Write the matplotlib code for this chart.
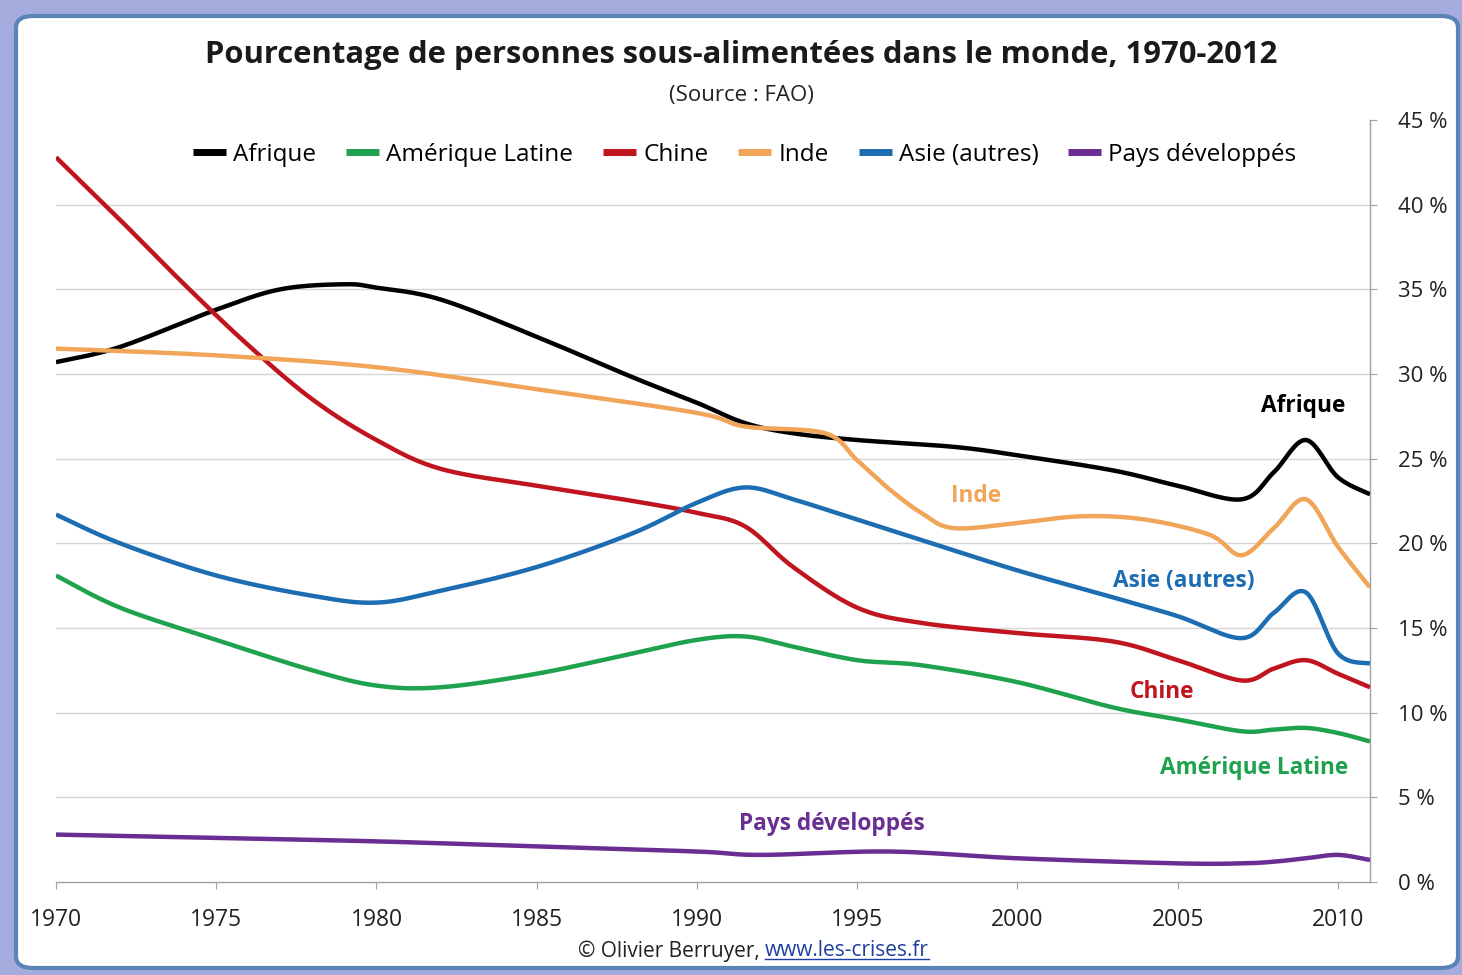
import numpy as np
import matplotlib
matplotlib.use("Agg")
import matplotlib.pyplot as plt
from matplotlib.patches import FancyBboxPatch

plt.rcParams['font.family'] = ['Open Sans', 'DejaVu Sans']

# ---------------- data (percent undernourished) ----------------
afrique_years = [1970, 1972, 1975, 1977, 1979, 1980, 1982, 1985, 1988, 1990, 1991.5, 1993, 1995, 1998, 2000, 2003, 2005, 2007, 2008, 2009, 2010, 2011]
afrique_vals  = [30.7, 31.6, 33.8, 35.0, 35.3, 35.1, 34.4, 32.2, 29.8, 28.3, 27.1, 26.5, 26.1, 25.7, 25.2, 24.3, 23.4, 22.6, 24.2, 26.1, 23.9, 22.9]

amlat_years = [1970, 1972, 1975, 1978, 1980, 1982, 1985, 1988, 1990, 1991.5, 1993, 1995, 1997, 2000, 2003, 2005, 2007, 2008, 2009, 2010, 2011]
amlat_vals  = [18.1, 16.2, 14.3, 12.5, 11.6, 11.5, 12.3, 13.5, 14.3, 14.5, 13.9, 13.1, 12.8, 11.8, 10.3, 9.6, 8.9, 9.0, 9.1, 8.8, 8.3]

chine_years = [1970, 1972, 1974, 1976, 1978, 1980, 1982, 1985, 1988, 1990, 1991.5, 1993, 1995, 1997, 2000, 2003, 2005, 2007, 2008, 2009, 2010, 2011]
chine_vals  = [42.8, 39.1, 35.3, 31.7, 28.5, 26.1, 24.4, 23.4, 22.5, 21.8, 21.0, 18.6, 16.2, 15.3, 14.7, 14.2, 13.1, 11.9, 12.6, 13.1, 12.3, 11.5]

inde_years = [1970, 1975, 1980, 1985, 1990, 1991.5, 1994, 1995, 1996, 1997, 1998, 2000, 2002, 2004, 2006, 2007, 2008, 2009, 2010, 2011]
inde_vals  = [31.5, 31.1, 30.4, 29.1, 27.7, 26.9, 26.5, 24.9, 23.2, 21.8, 20.9, 21.2, 21.6, 21.4, 20.5, 19.3, 20.9, 22.6, 19.8, 17.4]

asie_years = [1970, 1972, 1975, 1978, 1980, 1982, 1985, 1988, 1990, 1991.5, 1993, 1995, 1997, 2000, 2003, 2005, 2007, 2008, 2009, 2010, 2011]
asie_vals  = [21.7, 20.0, 18.1, 16.9, 16.5, 17.2, 18.6, 20.6, 22.4, 23.3, 22.6, 21.4, 20.2, 18.4, 16.8, 15.7, 14.4, 15.9, 17.1, 13.5, 12.9]

devel_years = [1970, 1975, 1980, 1985, 1990, 1992, 1996, 2000, 2005, 2007, 2008, 2009, 2010, 2011]
devel_vals  = [2.8, 2.6, 2.4, 2.1, 1.8, 1.6, 1.8, 1.4, 1.1, 1.1, 1.2, 1.4, 1.6, 1.3]

series_names = ["Afrique", "Amérique Latine", "Chine", "Inde", "Asie (autres)", "Pays développés"]
series_years = [afrique_years, amlat_years, chine_years, inde_years, asie_years, devel_years]
series_vals = [afrique_vals, amlat_vals, chine_vals, inde_vals, asie_vals, devel_vals]
series_colors = ["#000000", "#1FA24E", "#C0151E", "#F0A559", "#1C6DB2", "#6A2D91"]

x_ticks = [1970, 1975, 1980, 1985, 1990, 1995, 2000, 2005, 2010]
y_ticks = [0, 5, 10, 15, 20, 25, 30, 35, 40, 45]


def smooth(xs, ys, n=30):
    """Excel-like smoothed line (Bezier/Catmull-Rom through the given points)."""
    xs = np.asarray(xs, float)
    ys = np.asarray(ys, float)
    P = np.column_stack([xs, ys])
    P = np.vstack([P[0], P, P[-1]])
    out = []
    t = np.linspace(0, 1, n, endpoint=False)
    for i in range(1, len(P) - 2):
        p0, p1, p2, p3 = P[i - 1], P[i], P[i + 1], P[i + 2]
        c1 = p1 + (p2 - p0) / 6.0
        c2 = p2 - (p3 - p1) / 6.0
        tt = t[:, None]
        seg = ((1 - tt) ** 3) * p1 + 3 * ((1 - tt) ** 2) * tt * c1 + 3 * (1 - tt) * tt ** 2 * c2 + tt ** 3 * p2
        out.append(seg)
    out.append(P[-2][None, :])
    S = np.vstack(out)
    return S[:, 0], S[:, 1]


W, H = 1462, 975
fig = plt.figure(figsize=(W / 100, H / 100), dpi=100)
fig.patch.set_facecolor("#A3ACDC")

# chart frame (white rounded box with blue border)
frame = FancyBboxPatch((16 / W, 7 / H), 1442 / W, 952 / H,
                       boxstyle="round,pad=0,rounding_size=0.012",
                       transform=fig.transFigure, facecolor="white",
                       edgecolor="#5A84B8", linewidth=3.0, zorder=-10)
fig.patches.append(frame)

ax = fig.add_axes([56 / W, (H - 882) / H, (1370 - 56) / W, (882 - 120) / H])
ax.set_zorder(2)
ax.set_facecolor("none")
ax.set_xlim(1970, 2011)
ax.set_ylim(0, 45)

for y in y_ticks[1:-1]:
    ax.axhline(y, color="#D6D6D6", lw=1.0, zorder=1)

for name, xs, ys, c in zip(series_names, series_years, series_vals, series_colors):
    sx, sy = smooth(xs, ys)
    ax.plot(sx, sy, color=c, lw=3.2, solid_capstyle="butt", solid_joinstyle="round", label=name, zorder=3)

# axes styling
for s in ["top", "left"]:
    ax.spines[s].set_visible(False)
ax.spines["right"].set_color("#A0A0A0")
ax.spines["bottom"].set_color("#A0A0A0")
ax.spines["right"].set_linewidth(1.0)
ax.spines["bottom"].set_linewidth(1.0)
ax.yaxis.tick_right()
ax.set_yticks(y_ticks)
ax.set_yticklabels([f"{v} %" for v in y_ticks])
ax.set_xticks(x_ticks)
ax.set_xticklabels([str(v) for v in x_ticks])
ax.tick_params(axis="y", direction="out", length=5, color="#A0A0A0", pad=15, labelsize=16, labelcolor="#222222")
ax.tick_params(axis="x", direction="out", length=5, color="#A0A0A0", pad=14, labelsize=16.5, labelcolor="#222222")
for lbl in ax.get_yticklabels():
    lbl.set_horizontalalignment("left")

# legend
leg = fig.legend(loc="center", bbox_to_anchor=(745 / W, (H - 155) / H), ncol=6, frameon=False,
                 fontsize=17.5, handlelength=1.36, handletextpad=0.29, columnspacing=1.23)
for line in leg.get_lines():
    line.set_linewidth(5)

# titles
fig.text(741 / W, (H - 55) / H, "Pourcentage de personnes sous-alimentées dans le monde, 1970-2012",
         ha="center", va="center", fontsize=22.3, fontweight="bold", color="#1A1A1A")
fig.text(741 / W, (H - 95) / H, "(Source : FAO)", ha="center", va="center", fontsize=16, color="#222222")

# direct labels
lab_fs = 16.3
ax.text(2008.9, 28.1, "Afrique", color="#000000", fontsize=lab_fs, fontweight="bold", ha="center", va="center")
ax.text(1998.7, 22.8, "Inde", color="#F0A559", fontsize=lab_fs, fontweight="bold", ha="center", va="center")
ax.text(2005.2, 17.75, "Asie (autres)", color="#1C6DB2", fontsize=lab_fs, fontweight="bold", ha="center", va="center")
ax.text(2004.5, 11.25, "Chine", color="#C0151E", fontsize=lab_fs, fontweight="bold", ha="center", va="center")
ax.text(2007.4, 6.75, "Amérique Latine", color="#1FA24E", fontsize=lab_fs, fontweight="bold", ha="center", va="center")
ax.text(1994.2, 3.45, "Pays développés", color="#6A2D91", fontsize=lab_fs, fontweight="bold", ha="center", va="center")

# footer
t1 = fig.text(765 / W, (H - 951) / H, "© Olivier Berruyer, ", ha="right", va="center", fontsize=15, color="#222222")
t2 = fig.text(765 / W, (H - 951) / H, "www.les-crises.fr", ha="left", va="center", fontsize=15,
              color="#1F3FA0")
fig.canvas.draw()
bb = t2.get_window_extent()
fig.add_artist(plt.Line2D([bb.x0 / W, bb.x1 / W], [(bb.y0 + 3) / H, (bb.y0 + 3) / H],
                          transform=fig.transFigure, color="#1F3FA0", lw=1.0))

fig.savefig("out.png", dpi=100, facecolor=fig.get_facecolor())
